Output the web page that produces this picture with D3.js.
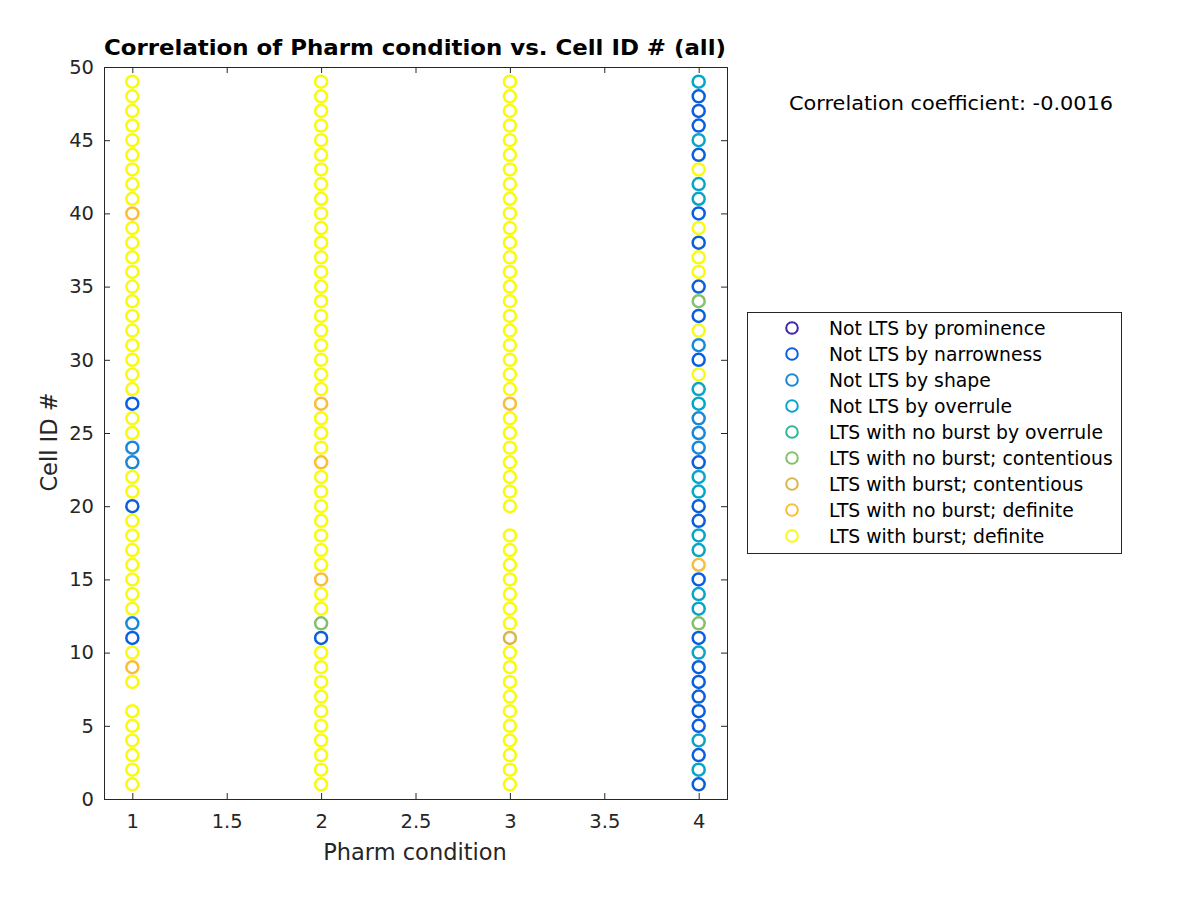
<!DOCTYPE html>
<html><head><meta charset="utf-8">
<script src="https://cdn.jsdelivr.net/npm/d3@7"></script>
<style>body{margin:0;background:#fff;} svg{display:block;}</style>
</head><body>
<svg id="chart" width="1200" height="900"></svg>
<script>
// ---- data ----
const classNames = [
  "Not LTS by prominence",
  "Not LTS by narrowness",
  "Not LTS by shape",
  "Not LTS by overrule",
  "LTS with no burst by overrule",
  "LTS with no burst; contentious",
  "LTS with burst; contentious",
  "LTS with no burst; definite",
  "LTS with burst; definite"
];
const classColors = ["#3e26a8","#0a5fe0","#1a88d8","#07a6c8","#2db79c","#84c06e","#d9b64c","#fbbd36","#f9fb0e"];
const pharmConditions = [1, 2, 3, 4];
const cellIds = d3.range(1, 50);
// class code (1..9) for cell IDs 1..49; null = no data
const classCond1 = [9,9,9,9,9,9,null,9,8,9, 2,3,9,9,9,9,9,9,9,2, 9,9,3,3,9,9,2,9,9,9, 9,9,9,9,9,9,9,9,9,8, 9,9,9,9,9,9,9,9,9];
const classCond2 = [9,9,9,9,9,9,9,9,9,9, 2,6,9,9,8,9,9,9,9,9, 9,9,8,9,9,9,8,9,9,9, 9,9,9,9,9,9,9,9,9,9, 9,9,9,9,9,9,9,9,9];
const classCond3 = [9,9,9,9,9,9,9,9,9,9, 7,9,9,9,9,9,9,9,null,9, 9,9,9,9,9,9,8,9,9,9, 9,9,9,9,9,9,9,9,9,9, 9,9,9,9,9,9,9,9,9];
const classCond4 = [2,4,2,4,2,2,2,2,2,4, 2,6,4,4,2,8,4,4,2,2, 4,4,2,3,3,3,4,4,9,2, 3,9,2,6,2,9,9,2,9,2, 4,4,9,2,4,2,2,2,4];
const xTicks = [1, 1.5, 2, 2.5, 3, 3.5, 4];
const yTicks = d3.range(0, 51, 5);
const corrText = "Correlation coefficient: -0.0016";

// ---- layout ----
const svg = d3.select("#chart");
const L = 104, R = 727, T = 67, B = 799;
const x = d3.scaleLinear().domain([0.85, 4.15]).range([L, R]);
const y = d3.scaleLinear().domain([0, 50]).range([B, T]);
const font = "DejaVu Sans, sans-serif";
const axisColor = "#262626";

// points
const allClasses = [classCond1, classCond2, classCond3, classCond4];
const points = [];
pharmConditions.forEach((c, i) => {
  cellIds.forEach((id, j) => {
    const k = allClasses[i][j];
    if (k != null) points.push({cond: c, id: id, cls: k});
  });
});

const gPts = svg.append("g");
gPts.selectAll("circle").data(points).enter().append("circle")
  .attr("cx", d => x(d.cond)).attr("cy", d => y(d.id)).attr("r", 6)
  .attr("fill", "none").attr("stroke", d => classColors[d.cls - 1]).attr("stroke-width", 2.5);

// axes (MATLAB style: ticks inward, box)
const tickLen = 6;
const gx = svg.append("g").attr("transform", `translate(0,${B})`)
  .call(d3.axisBottom(x).tickValues(xTicks).tickFormat(d3.format("")).tickSize(-tickLen).tickPadding(15));
const gxt = svg.append("g").attr("transform", `translate(0,${T})`)
  .call(d3.axisTop(x).tickValues(xTicks).tickFormat("").tickSize(-tickLen));
const gy = svg.append("g").attr("transform", `translate(${L},0)`)
  .call(d3.axisLeft(y).tickValues(yTicks).tickSize(-tickLen).tickPadding(10));
const gyr = svg.append("g").attr("transform", `translate(${R},0)`)
  .call(d3.axisRight(y).tickValues(yTicks).tickFormat("").tickSize(-tickLen));
[gx, gxt, gy, gyr].forEach(g => {
  g.select(".domain").attr("stroke", axisColor).attr("stroke-width", 1);
  g.selectAll(".tick line").attr("stroke", axisColor);
  g.selectAll("text").attr("fill", axisColor).attr("font-family", font).attr("font-size", 19.5);
});

// title and labels
svg.append("text").attr("x", 104).attr("y", 55)
  .attr("font-family", font).attr("font-size", 20.5).attr("font-weight", "bold").attr("fill", "#000")
  .attr("textLength", 622).attr("lengthAdjust", "spacingAndGlyphs")
  .text("Correlation of Pharm condition vs. Cell ID # (all)");
svg.append("text").attr("x", 415).attr("y", 860).attr("text-anchor", "middle")
  .attr("font-family", font).attr("font-size", 22.5).attr("fill", axisColor).text("Pharm condition");
svg.append("text").attr("transform", `translate(57,${(T + B) / 2 + 9}) rotate(-90)`).attr("text-anchor", "middle")
  .attr("font-family", font).attr("font-size", 22.5).attr("fill", axisColor).text("Cell ID #");

svg.append("text").attr("x", 789).attr("y", 110)
  .attr("font-family", font).attr("font-size", 19.5).attr("fill", "#000")
  .attr("textLength", 324).attr("lengthAdjust", "spacingAndGlyphs").text(corrText);

// legend
const lg = svg.append("g");
lg.append("rect").attr("x", 747.5).attr("y", 312.5).attr("width", 374).attr("height", 241)
  .attr("fill", "#fff").attr("stroke", axisColor).attr("stroke-width", 1);
classNames.forEach((n, i) => {
  const yy = 328 + i * 26;
  lg.append("circle").attr("cx", 792).attr("cy", yy).attr("r", 5.8).attr("fill", "none")
    .attr("stroke", classColors[i]).attr("stroke-width", 2);
  lg.append("text").attr("x", 829).attr("y", yy + 6.5).attr("font-family", font).attr("font-size", 18.8)
    .attr("fill", "#000").text(n);
});
</script>
</body></html>
